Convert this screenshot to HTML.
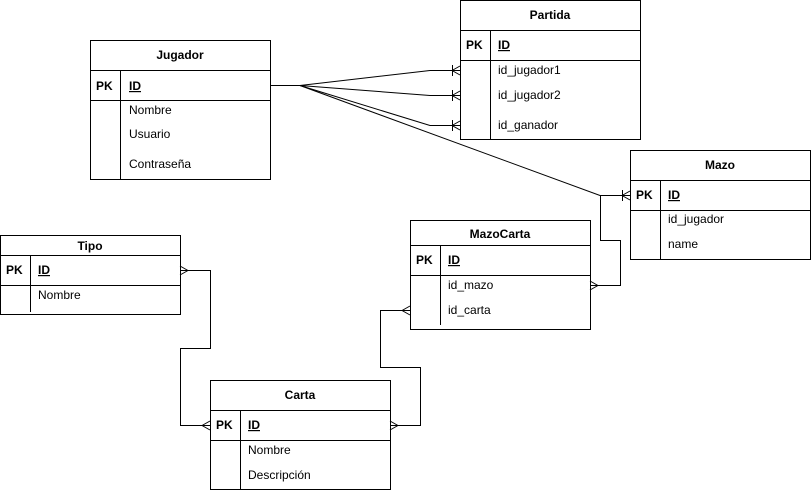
<!DOCTYPE html>
<html><head><meta charset="utf-8"><style>
html,body{margin:0;padding:0;background:#fff;}
svg text{font-family:"Liberation Sans",Arial,sans-serif;font-size:12px;fill:#000;}
.b{font-weight:bold;}
</style></head><body>
<svg width="811" height="491" viewBox="0 0 811 491" xmlns="http://www.w3.org/2000/svg">
<g fill="none" stroke="#000" stroke-width="1">
<!-- Jugador -->
<rect x="90.5" y="40.5" width="180" height="139"/>
<line x1="90" y1="70.5" x2="270" y2="70.5"/><line x1="90" y1="100.5" x2="270" y2="100.5"/>
<line x1="120.5" y1="70" x2="120.5" y2="180"/>
<!-- Partida -->
<rect x="460.5" y="0.5" width="180" height="139"/>
<line x1="460" y1="30.5" x2="640" y2="30.5"/><line x1="460" y1="60.5" x2="640" y2="60.5"/>
<line x1="490.5" y1="30" x2="490.5" y2="140"/>
<!-- Mazo -->
<rect x="630.5" y="150.5" width="180" height="109"/>
<line x1="630" y1="180.5" x2="810" y2="180.5"/><line x1="630" y1="210.5" x2="810" y2="210.5"/>
<line x1="660.5" y1="180" x2="660.5" y2="260"/>
<!-- MazoCarta -->
<rect x="410.5" y="220.5" width="180" height="109"/>
<line x1="410" y1="245.5" x2="590" y2="245.5"/><line x1="410" y1="275.5" x2="590" y2="275.5"/>
<line x1="440.5" y1="245" x2="440.5" y2="325"/>
<!-- Tipo -->
<rect x="0.5" y="235.5" width="180" height="79"/>
<line x1="0" y1="255.5" x2="180" y2="255.5"/><line x1="0" y1="285.5" x2="180" y2="285.5"/>
<line x1="30.5" y1="255" x2="30.5" y2="312"/>
<!-- Carta -->
<rect x="210.5" y="380.5" width="180" height="109"/>
<line x1="210" y1="410.5" x2="390" y2="410.5"/><line x1="210" y1="440.5" x2="390" y2="440.5"/>
<line x1="240.5" y1="410" x2="240.5" y2="490"/>

<!-- connectors Jugador -->
<polyline points="270,85.5 300,85.5 430,70.5 460,70.5"/>
<polyline points="300,85.5 430,95.5 460,95.5"/>
<polyline points="300,85.5 430,125.5 460,125.5"/>
<polyline points="300,85.5 600,195.5 630,195.5"/>
<!-- crow's feet with bar -->
<path d="M452.5,65 V76 M452,70.5 L460,66 M452,70.5 L460,75"/>
<path d="M452.5,90 V101 M452,95.5 L460,91 M452,95.5 L460,100"/>
<path d="M452.5,120 V131 M452,125.5 L460,121 M452,125.5 L460,130"/>
<path d="M622.5,190 V201 M622,195.5 L630,191 M622,195.5 L630,200"/>
<!-- Mazo - MazoCarta -->
<polyline points="600.5,195 600.5,240.5 620.5,240.5 620.5,285.5 590,285.5"/>
<path d="M598,285.5 L590,281 M598,285.5 L590,290"/>
<!-- Tipo - Carta -->
<polyline points="180,270.5 210.5,270.5 210.5,348.5 180.5,348.5 180.5,425.5 210,425.5"/>
<path d="M188,270.5 L180,266 M188,270.5 L180,275"/>
<path d="M202,425.5 L210,421 M202,425.5 L210,430"/>
<!-- MazoCarta - Carta -->
<polyline points="410,310.5 380.5,310.5 380.5,367.5 420.5,367.5 420.5,425.5 390,425.5"/>
<path d="M402,310.5 L410,306 M402,310.5 L410,315"/>
<path d="M398,425.5 L390,421 M398,425.5 L390,430"/>
</g>
<text x="180" y="59" text-anchor="middle" class="b">Jugador</text>
<text x="96" y="90" class="b">PK</text>
<text x="129" y="90" class="b" text-decoration="underline">ID</text>
<text x="129" y="114">Nombre</text>
<text x="129" y="138">Usuario</text>
<text x="129" y="168">Contraseña</text>

<text x="550" y="19" text-anchor="middle" class="b">Partida</text>
<text x="466" y="49" class="b">PK</text>
<text x="498" y="49" class="b" text-decoration="underline">ID</text>
<text x="498" y="74">id_jugador1</text>
<text x="498" y="99">id_jugador2</text>
<text x="498" y="129">id_ganador</text>

<text x="720" y="169" text-anchor="middle" class="b">Mazo</text>
<text x="636" y="199" class="b">PK</text>
<text x="668" y="199" class="b" text-decoration="underline">ID</text>
<text x="668" y="223">id_jugador</text>
<text x="668" y="248">name</text>

<text x="500" y="238" text-anchor="middle" class="b">MazoCarta</text>
<text x="416" y="264" class="b">PK</text>
<text x="448" y="264" class="b" text-decoration="underline">ID</text>
<text x="448" y="289">id_mazo</text>
<text x="448" y="314">id_carta</text>

<text x="90" y="250" text-anchor="middle" class="b">Tipo</text>
<text x="6" y="274" class="b">PK</text>
<text x="38" y="274" class="b" text-decoration="underline">ID</text>
<text x="38" y="299">Nombre</text>

<text x="300" y="399" text-anchor="middle" class="b">Carta</text>
<text x="216" y="429" class="b">PK</text>
<text x="248" y="429" class="b" text-decoration="underline">ID</text>
<text x="248" y="454">Nombre</text>
<text x="248" y="479">Descripción</text>
</svg>
</body></html>
